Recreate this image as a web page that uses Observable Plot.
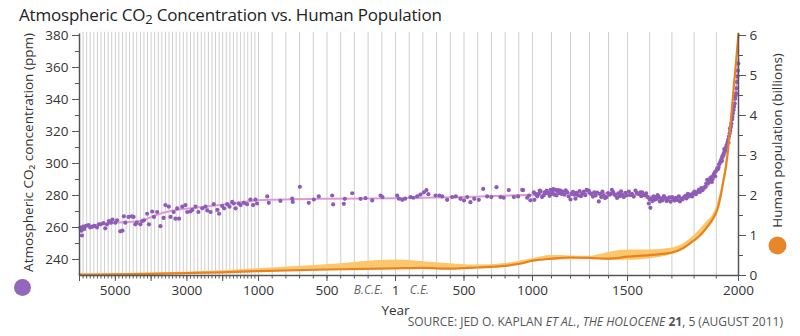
<!DOCTYPE html>
<html><head><meta charset="utf-8">
<script src="https://cdn.jsdelivr.net/npm/d3@7"></script>
<script src="https://cdn.jsdelivr.net/npm/@observablehq/plot@0.6"></script>
<style>
body{margin:0;background:#fff;}
#wrap{position:relative;width:800px;height:336px;overflow:hidden;font-family:"Open Sans",sans-serif;}
#chart{position:absolute;left:0;top:0;}
#title{position:absolute;left:19px;top:3px;font-size:17px;color:#222;white-space:nowrap;letter-spacing:-0.2px;}
#title sub{font-size:13px;vertical-align:-3px;}
#source{position:absolute;right:17px;top:313px;font-size:12px;color:#555;white-space:nowrap;}
</style></head><body>
<div id="wrap"><div id="chart"></div>
<div id="title">Atmospheric CO<sub>2</sub> Concentration vs. Human Population</div>
<div id="source">SOURCE: JED O. KAPLAN <i>ET AL.</i>, <i>THE HOLOCENE</i> <b>21</b>, 5 (AUGUST 2011)</div>
</div>
<script>
// ---- data (year, value) ----
const co2 = [
[-5975,260],[-5950,258],[-5930,255],[-5900,260.5],[-5870,259],[-5820,261],[-5750,261.5],[-5700,260],[-5640,260.5],[-5580,261],[-5510,260],[-5460,262],[-5410,262],[-5330,262.7],[-5280,259.5],[-5230,262],[-5180,264],[-5120,263],[-5080,265],[-5000,263],[-4950,264.5],[-4860,257.6],[-4800,258],[-4760,267],[-4720,263],[-4630,266.6],[-4540,267],[-4490,266.6],[-4440,262],[-4400,263],[-4300,262],[-4250,264],[-4200,264.5],[-4110,268.6],[-4060,262],[-3970,270],[-3920,266.6],[-3830,269.7],[-3740,260.8],[-3650,266],[-3600,274],[-3505,273],[-3460,266.6],[-3370,269.7],[-3320,265.5],[-3270,271.9],[-3220,265.5],[-3130,273],[-3040,274],[-2990,269.7],[-2900,270],[-2850,271],[-2760,273],[-2680,269.7],[-2570,272],[-2480,273],[-2430,270.7],[-2340,269.7],[-2250,274.6],[-2150,271],[-2100,268.6],[-2015,273.5],[-1960,272],[-1875,274.6],[-1810,273],[-1735,276],[-1690,275],[-1640,272],[-1550,275],[-1500,274],[-1410,275.4],[-1320,274.6],[-1225,277.5],[-1150,274],[-1085,277.5],[-1040,275],
[-936,279.4],[-925,275.4],[-840,276.6],[-754,278],[-750,276],[-698,285.4],[-633,275.4],[-596,277.5],[-560,279.4],[-462,280],[-455,274.4],[-377,274.8],[-370,277.9],[-316,281.4],[-255,277.9],[-219,278.3],[-170,276.9],[-109,280],[-95,279],[12,280],[25,278],[49,277.3],[70,278],[109,279],[130,278.6],[158,279.4],[182,280.6],[207,282],[226,283.4],[240,280.8],[292,280],[320,280],[341,279.4],[377,277.3],[414,279],[440,279.4],[474,277.9],[500,276.9],[523,279],[547,275.8],[575,277.9],[608,277.3],[640,284.1],[669,279.4],[700,279],[737,285.2],[766,279],[790,278.6],[827,283.4],[864,279],[895,279.4],[925,283.5],[932,283.4],[961,278.6],[975,280],[985,277],
[1007,282],[1010,277.3],[1015,281],[1025,279.5],[1033,281],[1038,283],[1042,282.7],[1050,279],[1059,280],[1064,282],[1068,281.4],[1075,283],[1083,281.5],[1090,279.8],[1095,283.5],[1100,281],[1104,282],[1110,284],[1116,280.5],[1121,283.5],[1126,280],[1130,282.7],[1136,283.4],[1141,281.5],[1147,283],[1153,281],[1160,282.5],[1168,280.5],[1175,283.2],[1183,282],[1190,279.5],[1200,277.5],[1206,281],[1213,282.3],[1220,280.5],[1226,278],[1232,281.6],[1240,280],[1248,282.8],[1255,279.6],[1262,281],[1270,282.5],[1278,280.2],[1285,283.5],[1296,283],[1302,281.5],[1310,281],[1318,279.3],[1325,282],[1332,280],[1340,281.8],[1349,276.3],[1355,281],[1362,279],[1368,282.4],[1375,280],[1382,278.4],[1390,279],[1398,281.5],[1405,280.5],[1411,281],[1418,283.5],[1425,282.2],[1431,280.6],[1437,280],[1445,278.5],[1452,281.4],[1460,279.6],[1466,282.6],[1472,280.4],[1480,279],[1489,281.7],[1495,280],
[1506,282.5],[1512,280.2],[1520,281],[1528,279.3],[1536,283],[1542,281.6],[1550,281],[1558,282],[1562,279.6],[1566,282],[1572,280.5],[1578,280],[1584,281.3],[1590,279],[1596,275],[1600,277.5],[1603,272.3],[1607,278],[1612,276.5],[1618,279.4],[1622,277.3],[1626,279],[1632,277.8],[1636,280.2],[1641,279],[1646,276.3],[1652,278],[1658,277],[1664,279.6],[1671,278.4],[1676,276.5],[1682,277.3],[1688,278.8],[1694,276.1],[1701,279],[1706,277.5],[1712,276.8],[1718,278.5],[1724,277.2],[1731,279.4],[1736,276.3],[1742,278],[1748,277.5],
[1755,279],[1761,279.8],[1766,278.2],[1772,281],[1778,279.5],[1784,280.6],[1791,279.4],[1796,281.5],[1802,282.5],[1808,280.8],[1814,282],[1821,283.5],[1826,282.2],[1832,284.6],[1838,283.4],[1845,285],[1851,285.6],[1855,287.5],[1859,289.8],[1864,287.8],[1868,289],[1873,290.8],[1878,291.5],[1880,288.5],[1883,290.2],[1888,293],[1893,294.5],[1895,292],[1898,295.2],[1904,297],[1908,296.5],[1910,297.5],[1912,299.5],[1918,301],[1922,302.4],[1925,301.5],[1926,304],[1930,305.2],[1934,306.5],[1936,309],[1938,307.8],[1941,309.4],[1944,308.5],[1945,310.5],[1948,312],[1951,313.5],[1954,315],[1955,313],[1957,316.8],[1960,318.8],[1962,322],[1963,320.5],[1966,323],[1968,325],[1971,327.5],[1973,329],[1975,331.3],[1978,333.5],[1980,335.5],[1983,337.5],[1985,340.5],[1987,342.5],[1989,343.8],[1991,347],[1993,351],[1995,354.5],[1997,358],[1999,362.5]
];
const co2Trend = [[-6000,260],[-5500,261.5],[-5000,263],[-4600,263.5],[-4300,264],[-4000,266.5],[-3700,269],[-3400,270.5],[-3000,271.8],[-2500,273],[-2000,274.3],[-1500,275.8],[-1000,277],[-500,278],[0,278.3],[500,279],[1000,280.5],[1300,281.5],[1500,281],[1600,279.5],[1700,278],[1750,278.5],[1800,280.5],[1850,284],[1900,295],[1950,311],[1975,331],[1990,347],[2000,365]];
// population, billions
const pop = [[-6000,0.02],[-5000,0.03],[-4000,0.04],[-3000,0.06],[-2000,0.08],[-1000,0.11],[-500,0.15],[0,0.18],[200,0.19],[400,0.17],[600,0.2],[800,0.24],[900,0.29],[1000,0.37],[1100,0.42],[1200,0.45],[1300,0.44],[1400,0.42],[1500,0.47],[1600,0.51],[1700,0.57],[1750,0.68],[1800,0.88],[1830,1.02],[1850,1.15],[1880,1.38],[1900,1.58],[1910,1.75],[1920,2.0],[1930,2.3],[1940,2.6],[1950,3.0],[1960,3.55],[1970,4.15],[1980,4.8],[1990,5.4],[2000,6.05]];
// population uncertainty band: year, low, high (billions)
const popBand = [[-6000,0.01,0.03],[-4000,0.03,0.06],[-2000,0.06,0.12],[-1000,0.1,0.17],[-500,0.13,0.27],[0,0.16,0.39],[300,0.15,0.32],[600,0.18,0.26],[800,0.22,0.3],[1000,0.33,0.42],[1100,0.38,0.5],[1300,0.40,0.48],[1350,0.39,0.52],[1450,0.38,0.62],[1500,0.38,0.64],[1600,0.42,0.64],[1700,0.53,0.69],[1750,0.66,0.79],[1800,0.85,1.0],[1850,1.1,1.3],[1900,1.5,1.7],[1950,2.9,3.1],[2000,6.0,6.1]];
// axis ticks
const xLabelTicks = [-5000,-3000,-1000,-500,0,500,1000,1500,2000];
const xLabelText = ["5000","3000","1000","500","1","500","1000","1500","2000"];
const ppmTicks = [240,260,280,300,320,340,360,380];
const popTicks = [0,1,2,3,4,5,6];
const leftLabel = "Atmospheric CO\u2082 concentration (ppm)";
const rightLabel = "Human population (billions)";

const purple="#8e5cb7", pink="#dc9bd6", orange="#e8821f", bandColor="#fcc66c", gridColor="#cfcfcf", axisColor="#555";
const toY = p => 230 + p*25;   // population (billions) -> left-axis units
const X = d => d[0];

const chart = Plot.plot({
  width:800, height:336, marginLeft:79, marginRight:62, marginTop:35, marginBottom:61,
  style:{fontFamily:"'Open Sans', sans-serif", fontSize:"13px", color:"#333", background:"transparent", overflow:"visible"},
  x:{type:"linear", domain:[-6000,-1000,0,1000,1500,2000], range:[79,258,395,532,627,738]},
  y:{domain:[230,380]},
  marks:[
    Plot.ruleX(d3.range(-5900,2000,100), {y1:230, y2:382, stroke:gridColor, strokeWidth:1}),
    Plot.areaY(popBand, {x:X, y1:d=>toY(d[1]), y2:d=>toY(d[2]), fill:bandColor, curve:"monotone-x"}),
    Plot.line(co2Trend, {x:X, y:d=>d[1], stroke:pink, strokeWidth:2, curve:"monotone-x"}),
    Plot.dot(co2, {x:X, y:d=>d[1], r:2.1, fill:purple}),
    Plot.line(pop, {x:X, y:d=>toY(d[1]), stroke:orange, strokeWidth:2.2, curve:"monotone-x"}),
    // axis lines
    Plot.ruleY([230], {stroke:axisColor, strokeWidth:1.5}),
    Plot.ruleX([-6000], {y1:230, y2:381, stroke:axisColor, strokeWidth:1.5}),
    Plot.ruleX([2000], {y1:230, y2:381, stroke:axisColor, strokeWidth:1.5}),
    // x axis
    Plot.axisX(d3.range(-6000,2001,100), {tickSize:3.5, text:null, stroke:axisColor, label:null}),
    Plot.axisX([-6000,-4000,-2000], {tickSize:6, text:null, stroke:axisColor, label:null}),
    Plot.axisX(xLabelTicks, {tickSize:6, tickPadding:4, stroke:axisColor, label:null, fontSize:13.5,
      tickFormat:d=>xLabelText[xLabelTicks.indexOf(d)]}),
    // left axis
    Plot.axisY(d3.range(250,381,20), {anchor:"left", tickSize:4, text:null, stroke:axisColor, label:null}),
    Plot.axisY(ppmTicks, {anchor:"left", tickSize:7, tickPadding:4, stroke:axisColor, label:null, fontSize:13.5}),
    // right axis
    Plot.axisY(popTicks.map(p=>toY(p+0.5)).slice(0,6), {anchor:"right", tickSize:4, text:null, stroke:axisColor, label:null}),
    Plot.axisY(popTicks.map(toY), {anchor:"right", tickSize:7, tickPadding:4, stroke:axisColor, label:null, fontSize:13.5,
      tickFormat:d=>String(Math.round((d-230)/25))}),
    // era labels & axis title
    Plot.text(["B.C.E."], {x:-197, frameAnchor:"bottom", lineAnchor:"middle", dy:15, fontStyle:"italic", fill:"#666", fontSize:12}),
    Plot.text(["C.E."], {x:175, frameAnchor:"bottom", lineAnchor:"middle", dy:15, fontStyle:"italic", fill:"#666", fontSize:12}),
    Plot.text(["Year"], {x:0, frameAnchor:"bottom", lineAnchor:"middle", dy:35, fill:"#333", fontSize:13.5}),
    // rotated axis labels
    Plot.text([leftLabel], {frameAnchor:"left", textAnchor:"middle", lineAnchor:"middle", dx:-51, dy:-3, rotate:-90, fontSize:13.5, fill:"#333"}),
    Plot.text([rightLabel], {frameAnchor:"right", textAnchor:"middle", lineAnchor:"middle", dx:39, dy:-15, rotate:-90, fontSize:13.5, fill:"#333"}),
    // legend swatches
    Plot.dot([0], {frameAnchor:"bottom-left", dx:-57, dy:12, r:8.5, fill:"#9467be"}),
    Plot.dot([0], {frameAnchor:"bottom-right", dx:39, dy:-30, r:9, fill:"#e8862a"})
  ]
});
document.getElementById("chart").appendChild(chart);
</script>
</body></html>
